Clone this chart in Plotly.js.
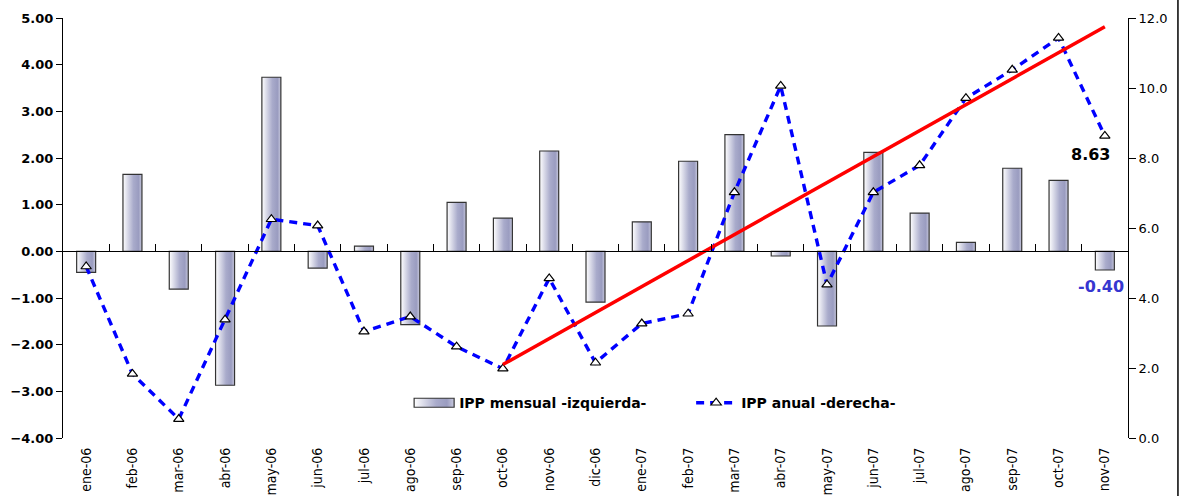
<!DOCTYPE html>
<html>
<head>
<meta charset="utf-8">
<script src="https://cdn.plot.ly/plotly-3.0.1.min.js"></script>
<style>html,body{margin:0;padding:0;background:#fff;}#chart{width:1182px;height:496px;}</style>
</head>
<body>
<div id="chart"></div>
<script>
const months = ['ene-06','feb-06','mar-06','abr-06','may-06','jun-06','jul-06','ago-06','sep-06','oct-06','nov-06','dic-06',
                'ene-07','feb-07','mar-07','abr-07','may-07','jun-07','jul-07','ago-07','sep-07','oct-07','nov-07'];
const ippMensual = [-0.45, 1.65, -0.81, -2.87, 3.73, -0.36, 0.11, -1.57, 1.05, 0.71, 2.15, -1.09,
                    0.63, 1.93, 2.50, -0.10, -1.60, 2.12, 0.82, 0.19, 1.78, 1.52, -0.40];
const ippAnual = [4.90, 1.83, 0.54, 3.38, 6.25, 6.07, 3.04, 3.47, 2.61, 1.98, 4.56, 2.15,
                  3.27, 3.55, 7.02, 10.06, 4.38, 7.02, 7.79, 9.71, 10.52, 11.43, 8.63];
const trendMonths = ['oct-06', 'nov-07'];
const trendValues = [2.10, 11.75];
const nameMensual = 'IPP mensual -izquierda-';
const nameAnual = 'IPP anual -derecha-';

const lastIdx = months.length - 1;
const fontBold = {family: 'DejaVu Sans', size: 13, color: '#000', weight: 'bold'};

const traces = [
  {type: 'bar', x: months, y: ippMensual, name: nameMensual, xaxis: 'x', yaxis: 'y',
   marker: {color: '#a7a9ca', line: {color: '#333', width: 1.2}}, hoverinfo: 'skip'},
  {type: 'scatter', mode: 'lines+markers', x: months, y: ippAnual, name: nameAnual, xaxis: 'x2', yaxis: 'y2',
   line: {color: '#0000ff', width: 3.4, dash: '8px,6px'},
   marker: {symbol: 'triangle-up', size: 9, color: '#fff', line: {color: '#000', width: 1.2}}, hoverinfo: 'skip'},
  {type: 'scatter', mode: 'lines', x: trendMonths, y: trendValues, showlegend: false, xaxis: 'x2', yaxis: 'y2',
   line: {color: '#ff0000', width: 3.5}, hoverinfo: 'skip'}
];

const layout = {
  width: 1182, height: 496,
  margin: {l: 63, r: 54, t: 18, b: 58},
  paper_bgcolor: '#fff', plot_bgcolor: '#fff',
  bargap: 0.59,
  showlegend: true,
  legend: {orientation: 'h', x: 0.325, y: 0.083, xanchor: 'left', yanchor: 'middle',
           font: {family: 'DejaVu Sans', size: 14, color: '#000', weight: 'bold'},
           bgcolor: 'rgba(0,0,0,0)', itemwidth: 40, tracegroupgap: 0,
           entrywidth: 227, entrywidthmode: 'pixels'},
  xaxis: {type: 'category', categoryorder: 'array', categoryarray: months, range: [-0.5, 22.5],
          showline: false, ticks: '', showgrid: false, zeroline: false, tickangle: -90,
          ticklabelstandoff: 6,
          tickfont: {family: 'Liberation Sans Narrow, Arial Narrow, DejaVu Sans Condensed', size: 14, color: '#000'}},
  xaxis2: {type: 'category', categoryorder: 'array', categoryarray: months, range: [-0.5, 22.5],
           overlaying: 'x', anchor: 'free', position: 4/9, side: 'bottom',
           showline: true, linecolor: '#000', linewidth: 1, ticks: 'inside', tickson: 'boundaries',
           ticklen: 7, tickcolor: '#000', tickwidth: 1, showticklabels: false, showgrid: false, zeroline: false},
  yaxis: {range: [-4, 5], dtick: 1, tickformat: '.2f', showline: true, linecolor: '#000', linewidth: 1,
          ticks: 'outside', ticklen: 6, tickcolor: '#000', showgrid: false, zeroline: false,
          tickfont: fontBold},
  yaxis2: {range: [0, 12], dtick: 2, tickformat: '.1f', overlaying: 'y', side: 'right', anchor: 'x',
           showline: true, linecolor: '#000', linewidth: 1, ticks: 'outside', ticklen: 7, tickcolor: '#000',
           showgrid: false, zeroline: false,
           tickfont: {family: 'DejaVu Sans', size: 13, color: '#000'}},
  yaxis3: {range: [0, 12], dtick: 2, overlaying: 'y', side: 'right', anchor: 'x',
           showline: false, ticks: 'inside', ticklen: 6, tickcolor: '#000', showticklabels: false,
           showgrid: false, zeroline: false},
  annotations: [
    {xref: 'x2', yref: 'y2', x: months[lastIdx], y: ippAnual[lastIdx], text: ippAnual[lastIdx].toFixed(2),
     showarrow: true, arrowcolor: 'rgba(0,0,0,0)', ax: -14, ay: 19,
     font: {family: 'DejaVu Sans', size: 16, color: '#000', weight: 'bold'}},
    {xref: 'x', yref: 'y', x: months[lastIdx], y: ippMensual[lastIdx], text: ippMensual[lastIdx].toFixed(2),
     showarrow: true, arrowcolor: 'rgba(0,0,0,0)', ax: -4, ay: 16,
     font: {family: 'DejaVu Sans', size: 16, color: '#3636d0', weight: 'bold'}}
  ],
  shapes: [
    {type: 'line', xref: 'paper', yref: 'paper', x0: 1.0469, x1: 1.0469, y0: -0.2, y1: 1.1,
     line: {color: '#000', width: 1.5}}
  ]
};

Plotly.newPlot('chart', traces, layout, {staticPlot: true, displayModeBar: false}).then(function (gd) {
  const svg = gd.querySelector('svg.main-svg');
  const ns = 'http://www.w3.org/2000/svg';
  let defs = svg.querySelector('defs');
  if (!defs) { defs = document.createElementNS(ns, 'defs'); svg.insertBefore(defs, svg.firstChild); }
  function makeGrad(id) {
    const grad = document.createElementNS(ns, 'linearGradient');
    grad.setAttribute('id', id);
    grad.setAttribute('x1', '0'); grad.setAttribute('y1', '0');
    grad.setAttribute('x2', '1'); grad.setAttribute('y2', '0');
    [['0', '#ffffff'], ['0.55', '#a9abcb'], ['0.82', '#9a9cc0'], ['1', '#c9cade']].forEach(function (s) {
      const st = document.createElementNS(ns, 'stop');
      st.setAttribute('offset', s[0]); st.setAttribute('stop-color', s[1]);
      grad.appendChild(st);
    });
    defs.appendChild(grad);
  }
  makeGrad('barGrad');
  gd.querySelectorAll('g.trace.bars path').forEach(function (p) { p.style.fill = 'url(#barGrad)'; });
  const legTraces = gd.querySelectorAll('.legend .traces');
  if (legTraces.length) {
    legTraces[0].querySelectorAll('.legendpoints path').forEach(function (p) {
      p.setAttribute('d', 'M20,4.5H-20V-4.5H20Z');
      p.style.fill = 'url(#barGrad)';
    });
  }
});
</script>
</body>
</html>
